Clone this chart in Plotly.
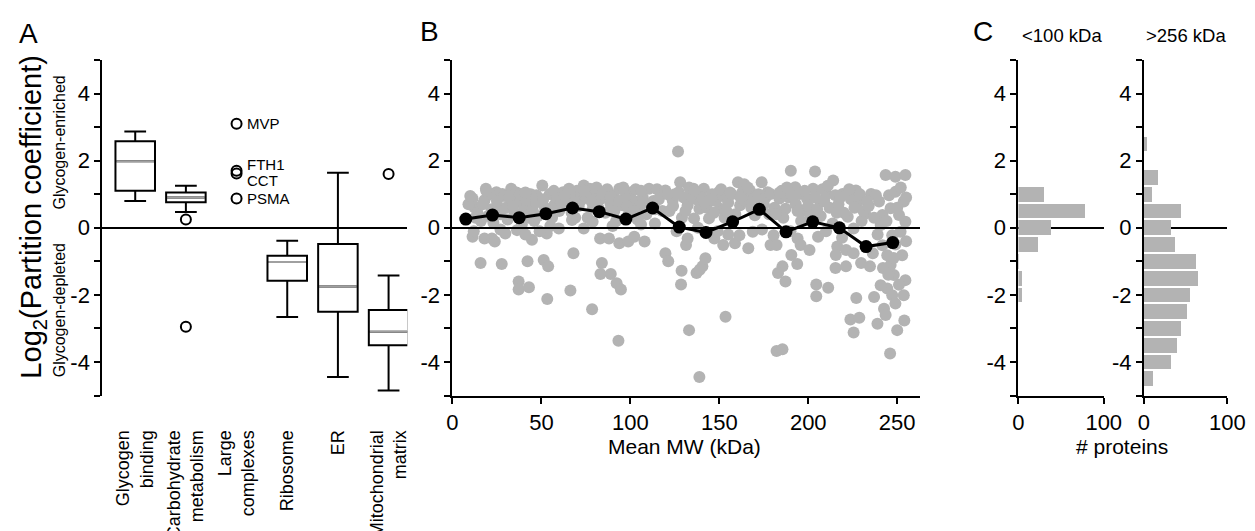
import plotly.graph_objects as go

W, H = 1255, 531

# ---- panel A: box summaries ----
groups = ["Glycogen<br>binding", "Carbohydrate<br>metabolism", "Large<br>complexes",
          "Ribosome", "ER", "Mitochondrial<br>matrix"]
box_pos = [0, 1, 3, 4, 5]
box_low = [0.80, 0.47, -2.66, -4.45, -4.85]
box_q1 = [1.10, 0.76, -1.58, -2.50, -3.50]
box_med = [1.98, 0.90, -1.02, -1.75, -3.10]
box_q3 = [2.58, 1.05, -0.83, -0.48, -2.45]
box_high = [2.87, 1.25, -0.39, 1.64, -1.42]

outlier_pos = [1, 1, 5]
outlier_val = [0.25, -2.95, 1.60]

complex_names = ["MVP", "FTH1", "CCT", "PSMA"]
complex_val = [3.10, 1.70, 1.62, 0.87]
complex_shift = [0, 6, -7, 0]

# ---- panel B: individual proteins (MW kDa, log2 partition), by MW region ----
mw_lt60 = [11.3, 12.2, 18.8, 18.0, 24.7, 28.0, 33.0, 33.8, 37.2, 42.2,
           47.2, 50.5, 54.7, 57.2, 14, 20, 26, 30, 35, 40,
           45, 48, 52, 56, 16, 23, 31, 39, 46, 55,
           9, 21, 29, 36, 44, 58, 11.3, 18.0, 22.2, 23.8,
           29.7, 36.3, 44.7, 53.0, 12, 27, 49, 41, 15.8, 27.7,
           42.2, 51.3, 53.8, 37.2, 37.2, 43.0, 53.3, 10, 13, 17,
           19, 22, 25, 27, 32, 34, 38, 41, 43, 47,
           51, 53, 57]
lp_lt60 = [0.87, 0.62, 1.16, 0.82, 1.06, 1.01, 1.16, 0.82, 0.77, 0.77,
           0.97, 1.26, 1.01, 0.67, 0.45, 0.35, 0.55, 0.60, 0.45, 0.50,
           0.55, 0.35, 0.60, 0.30, 0.20, 0.15, 0.25, 0.10, 0.20, 0.05,
           0.70, 1.00, 0.95, 1.05, 1.00, 0.90, -0.27, -0.32, -0.32, -0.41,
           -0.17, -0.07, -0.36, -0.17, -0.10, -0.05, -0.10, -0.20, -1.05, -1.08,
           -1.00, -0.96, -1.15, -1.60, -1.84, -1.77, -2.12, 0.95, 0.30, 0.70,
           1.10, 0.55, 0.80, 0.40, 0.90, 0.65, 1.00, 1.05, 0.30, 0.75,
           0.85, 0.40, 1.10]

mw_60_120 = [62.2, 65.5, 73.8, 77.2, 80.5, 85.5, 90.5, 93.8, 100.5, 101.3,
             110.5, 117.2, 72.2, 88.8, 95.5, 105.5, 58.8, 60, 64, 68,
             70, 75, 79, 83, 86, 91, 97, 99, 103, 107,
             109, 113, 115, 69, 76, 92, 104, 118, 66, 81,
             87, 96, 59.8, 73.8, 78.8, 67.2, 83.0, 88.0, 93.8, 98.8,
             102.2, 108.0, 113.8, 90, 106, 68.0, 84.0, 83.2, 89.0, 92.3,
             94.7, 66.3, 78.5, 93.3, 61, 63, 67, 71, 74, 78,
             82, 84, 89, 94, 98, 102, 106, 111, 114, 116]
lp_60_120 = [1.06, 1.16, 1.26, 1.16, 0.97, 1.06, 0.97, 1.16, 1.06, 0.82,
             1.16, 1.06, 0.82, 0.72, 0.67, 0.67, 0.87, 0.50, 0.70, 0.90,
             1.10, 0.95, 0.60, 0.85, 0.45, 0.50, 0.90, 0.40, 1.15, 0.90,
             0.40, 0.80, 1.15, 0.30, 0.30, 0.20, 0.25, 0.50, 1.00, 1.20,
             1.15, 1.20, -0.02, -0.02, 0.18, 0.23, -0.32, -0.32, -0.46, -0.41,
             -0.27, -0.41, 0.13, 0.05, 0.10, -0.76, -1.05, -1.38, -1.38, -1.65,
             -1.84, -1.87, -2.43, -3.37, 0.75, 0.95, 0.45, 0.65, 1.10, 0.80,
             0.60, 1.00, 0.90, 0.80, 0.65, 0.50, 1.10, 0.70, 0.55, 0.85]

mw_120_180 = [126.8, 119.7, 128.0, 127.2, 135.5, 141.3, 149.7, 150.5, 138.8, 132.2,
              123.8, 160.5, 163.0, 167.2, 173.8, 177.2, 161.7, 170.0, 144.2, 135.8,
              122, 125, 130, 133, 137, 140, 143, 146, 148, 152,
              155, 157, 159, 165, 168, 171, 175, 178, 153, 129,
              147, 164, 131.3, 132.2, 147.2, 152.2, 158.8, 166.3, 168.8, 161.3,
              178.8, 149, 126, 138, 155, 174, 119.7, 121.3, 128.8, 128.5,
              137.2, 140.5, 142.2, 139, 153.5, 133.0, 138.8, 121, 124, 131,
              134, 136, 142, 145, 151, 154, 156, 162, 166, 169,
              172, 176]
lp_120_180 = [2.27, 1.11, 1.36, 1.06, 1.16, 1.16, 1.06, 0.57, 0.57, 0.67,
              0.82, 1.36, 1.06, 1.11, 1.36, 1.06, 0.67, 0.37, 0.28, 0.28,
              0.50, 1.00, 0.90, 1.20, 0.85, 0.90, 0.60, 1.00, 0.80, 0.95,
              0.75, 1.00, 0.40, 0.80, 0.60, 0.90, 0.70, 0.40, 0.30, 0.30,
              0.45, 1.30, -0.51, -0.32, -0.32, -0.51, -0.46, -0.61, -0.12, -0.22,
              -0.51, -0.10, -0.10, 0.00, -0.20, -0.05, -0.76, -1.00, -1.28, -1.69,
              -1.35, -1.15, -0.91, -1.25, -2.65, -3.05, -4.45, 1.00, 0.65, 0.50,
              0.95, 1.10, 0.75, 0.85, 1.15, 0.50, 1.05, 0.90, 1.20, 0.85,
              1.00, 0.90]

mw_180_236 = [190.2, 203.8, 214.0, 178.8, 183.8, 192.7, 195.2, 199.3, 202.7, 206.8,
              210.2, 215.2, 219.3, 226.8, 227.7, 232.0, 235.3, 187.2, 197.2, 222.2,
              225.5, 213.7, 181, 185, 189, 193, 201, 204, 208, 212,
              217, 220, 224, 229, 233, 186, 196, 207, 230, 180.5,
              182.2, 194.0, 195.7, 200.7, 205.5, 216.3, 215.5, 221.3, 225.5, 229.7,
              234.7, 236.3, 190, 210, 219, 190.5, 193.8, 185.5, 183.0, 187.2,
              204.5, 204.5, 211.2, 215.3, 221.2, 227.0, 223.7, 228.7, 225.5, 182.2,
              185.5, 182, 184, 188, 191, 194, 198, 200, 205, 209,
              211, 216, 218, 223, 226, 231, 234]
lp_180_236 = [1.70, 1.68, 1.41, 1.01, 0.87, 1.21, 1.01, 0.87, 1.16, 0.77,
              1.01, 0.97, 1.01, 1.11, 0.77, 0.42, 1.01, 0.57, 0.52, 0.33,
              -0.02, 0.13, 0.60, 1.10, 0.90, 0.70, 0.40, 0.90, 1.15, 0.60,
              0.70, 0.45, 0.85, 1.00, 0.80, 0.30, 0.20, 0.35, 0.20, -0.22,
              -0.51, -0.32, -0.51, -0.66, -0.27, -0.56, -0.81, -0.66, -0.76, -1.05,
              -1.15, -0.76, -0.10, -0.10, -0.30, -0.81, -1.08, -1.15, -1.35, -1.60,
              -1.69, -2.04, -1.79, -1.20, -1.15, -2.09, -2.73, -2.68, -3.12, -3.67,
              -3.62, 0.40, 1.05, 1.20, 0.95, 0.50, 1.10, 0.65, 0.55, 0.80,
              1.25, 0.45, 0.90, 1.15, 0.60, 0.50, 0.65]

mw_gt236 = [238.0, 239.8, 241.7, 243.5, 245.4, 246.3, 249.0, 249.0, 254.6, 253.7,
            254.6, 251.9, 247.2, 241.7, 244.4, 246.3, 248.1, 244.4, 247.2, 240.7,
            237.0, 238.9, 242.6, 243.5, 246.0, 249.0, 250.0, 253.7, 254.0, 254.6,
            252.8, 251.0, 240.7, 237, 244, 250, 255, 252, 239, 249,
            255, 242, 251, 245, 248]
lp_gt236 = [0.97, 0.78, 0.38, 1.57, 0.97, 0.58, 1.07, 1.52, 1.57, 0.78,
            0.18, -0.12, -0.22, -0.52, -0.82, -1.11, -1.41, -1.81, -2.01, -1.71,
            -2.06, -2.86, -2.41, -2.60, -3.75, -2.26, -3.05, -2.01, -2.76, -1.56,
            -0.82, 0.38, 0.08, 0.30, 0.20, 0.60, 0.90, 1.20, -0.20, -0.50,
            -0.40, -1.20, -1.70, -1.40, -0.90]

mw_kda = mw_lt60 + mw_60_120 + mw_120_180 + mw_180_236 + mw_gt236
partition_log2 = lp_lt60 + lp_60_120 + lp_120_180 + lp_180_236 + lp_gt236

bin_center = [7.5, 22.5, 37.5, 52.5, 67.5, 82.5, 97.5, 112.5, 127.5, 142.5, 157.5,
              172.5, 187.5, 202.5, 217.5, 232.5, 247.5]
bin_mean = [0.26, 0.38, 0.30, 0.42, 0.59, 0.48, 0.26, 0.59, 0.02, -0.14, 0.18,
            0.55, -0.12, 0.18, 0.00, -0.56, -0.44]

# ---- panel C: histograms ----
small_centers = [1.0, 0.5, 0.0, -0.5, -1.0, -1.5, -2.0]
small_counts = [30, 79, 39, 24, 1, 5, 5]
large_centers = [2.5, 1.5, 1.0, 0.5, 0.0, -0.5, -1.0, -1.5, -2.0, -2.5, -3.0, -3.5, -4.0, -4.5]
large_counts = [4, 17, 10, 44, 32, 37, 62, 65, 55, 52, 44, 39, 32, 11]

GRAY = "#b3b3b3"
FONT = "Liberation Sans, Arial, sans-serif"
TOP, BOT = 53, 395  # plot area top / bottom in layout pixels
TICK = 22


def px(x, y):
    return x / W, 1 - y / H


fig = go.Figure()

# A
fig.add_trace(go.Box(x=box_pos, q1=box_q1, median=box_med, q3=box_q3,
                     lowerfence=box_low, upperfence=box_high, boxpoints=False,
                     width=0.78, whiskerwidth=0.55, fillcolor="white",
                     line=dict(color="black", width=2), xaxis="x", yaxis="y"))
for p, m in zip(box_pos, box_med):
    fig.add_shape(type="line", xref="x", yref="y", x0=p - 0.37, x1=p + 0.37, y0=m, y1=m,
                  line=dict(color="#a0a0a0", width=2), layer="above")
fig.add_trace(go.Scatter(x=outlier_pos, y=outlier_val, mode="markers", xaxis="x", yaxis="y",
                         marker=dict(symbol="circle-open", size=10, color="black",
                                     line=dict(width=2))))
fig.add_trace(go.Scatter(x=[2] * len(complex_val), y=complex_val, mode="markers",
                         xaxis="x", yaxis="y",
                         marker=dict(symbol="circle-open", size=10, color="black",
                                     line=dict(width=2))))

# B
fig.add_trace(go.Scatter(x=mw_kda, y=partition_log2, mode="markers", xaxis="x2", yaxis="y2",
                         marker=dict(size=12, color=GRAY, line=dict(width=0))))
fig.add_trace(go.Scatter(x=bin_center, y=bin_mean, mode="lines+markers", xaxis="x2", yaxis="y2",
                         line=dict(color="black", width=3),
                         marker=dict(size=13, color="black")))

# C
fig.add_trace(go.Bar(y=small_centers, x=small_counts, orientation="h", width=0.44,
                     marker=dict(color=GRAY, line=dict(width=0)), xaxis="x3", yaxis="y3"))
fig.add_trace(go.Bar(y=large_centers, x=large_counts, orientation="h", width=0.44,
                     marker=dict(color=GRAY, line=dict(width=0)), xaxis="x4", yaxis="y4"))

y_ticks = dict(range=[-5, 5], domain=[1 - BOT / H, 1 - TOP / H],
               tickvals=list(range(-5, 6)),
               ticktext=["", "-4", "", "-2", "", "0", "", "2", "", "4", ""],
               ticks="outside", ticklen=6, tickwidth=2, tickcolor="black",
               showline=True, linewidth=2, linecolor="black",
               zeroline=True, zerolinecolor="black", zerolinewidth=1.5,
               showgrid=False, tickfont=dict(size=TICK))
x_common = dict(ticks="outside", ticklen=6, tickwidth=2, tickcolor="black",
                showline=True, linewidth=2, linecolor="black",
                zeroline=False, showgrid=False, tickfont=dict(size=TICK))

fig.update_layout(
    width=W, height=H, margin=dict(l=0, r=0, t=0, b=0),
    paper_bgcolor="white", plot_bgcolor="white", showlegend=False,
    font=dict(family=FONT, color="black"), bargap=0,
    xaxis=dict(domain=[90 / W, 401 / W], range=[-0.65, 5.37], anchor="y",
               tickvals=list(range(6)), ticktext=groups, tickangle=-90,
               showline=False, ticks="", zeroline=False, showgrid=False,
               tickfont=dict(size=18), ticklabelstandoff=30),
    yaxis=dict(anchor="x", **y_ticks),
    xaxis2=dict(domain=[447 / W, 924 / W], range=[0, 263], anchor="y2",
                tickvals=[0, 50, 100, 150, 200, 250], **x_common),
    yaxis2=dict(anchor="x2", **y_ticks),
    xaxis3=dict(domain=[1024 / W, 1111 / W], range=[0, 100], anchor="y3",
                tickvals=[0, 100], **x_common),
    yaxis3=dict(anchor="x3", **y_ticks),
    xaxis4=dict(domain=[1152 / W, 1237 / W], range=[0, 100], anchor="y4",
                tickvals=[0, 100], **x_common),
    yaxis4=dict(anchor="x4", **y_ticks),
)

# zero line of panel B sits over the grey dots (only where the option exists)
try:
    fig.update_layout(yaxis2_zerolinelayer="above traces")
except ValueError:
    pass

# labels next to the large complexes
for name, val, shift in zip(complex_names, complex_val, complex_shift):
    fig.add_annotation(x=2, y=val, xref="x", yref="y", text=name, showarrow=False,
                       xanchor="left", xshift=8, yshift=shift, font=dict(size=15))


def label(text, x, y, size, angle=0):
    ax, ay = px(x, y)
    fig.add_annotation(x=ax, y=ay, xref="paper", yref="paper", text=text, showarrow=False,
                       xanchor="center", yanchor="middle", textangle=angle,
                       font=dict(size=size))


label("A", 15, 26, 28)
label("B", 424, 24, 28)
label("C", 988, 24, 28)
label("&lt;100 kDa", 1068, 28, 18.5)
label("&gt;256 kDa", 1195, 28, 18.5)
label("Log<sub>2</sub>(Partition coefficient)", 19, 213, 29, -90)
label("Glycogen-enriched", 46, 137, 16, -90)
label("Glycogen-depleted", 46, 308, 16, -90)
label("Mean MW (kDa)", 684, 447, 21)
label("# proteins", 1130, 447, 21)

fig.write_html("out.html")
